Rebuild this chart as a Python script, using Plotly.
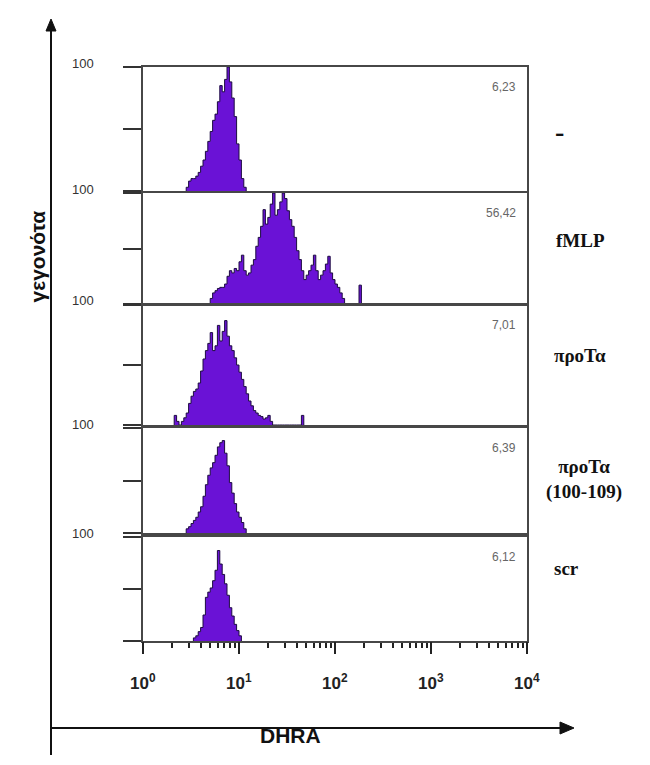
import numpy as np
import plotly.graph_objects as go

# ---------------- data ----------------
BINS_PER_DECADE = 40          # histogram bins per log decade (FL channel binning)
conditions = ["-", "fMLP", "προΤα", "προΤα<br>(100-109)", "scr"]
mfi_labels = ["6,23", "56,42", "7,01", "6,39", "6,12"]
y_tick_label = "100"
x_tick_labels = ["10<sup>0</sup>", "10<sup>1</sup>", "10<sup>2</sup>", "10<sup>3</sup>", "10<sup>4</sup>"]
x_tick_decades = [1, 10, 100, 1000, 10000]

# first bin index of each histogram
start_bins = [18, 28, 13, 18, 21]

counts_ctrl = [3, 8, 10, 10, 12, 15, 20, 25, 32, 40, 48, 57, 62, 72, 85, 80, 90, 100,
               88, 75, 60, 38, 25, 10, 3]
counts_fmlp = [5, 10, 12, 14, 15, 15, 18, 25, 30, 28, 32, 30, 38, 44, 30, 26, 28, 35, 40,
               52, 60, 70, 85, 72, 78, 90, 100, 80, 85, 92, 100, 95, 84, 76, 70, 60, 48, 40,
               30, 22, 26, 30, 35, 44, 30, 22, 26, 30, 36, 43, 28, 22, 18, 15, 10, 5,
               0, 0, 0, 0, 0, 0, 17]
counts_prota = [8, 3, 0, 3, 6, 10, 18, 24, 28, 30, 35, 45, 55, 62, 68, 77, 62, 66, 83, 70,
                78, 87, 74, 66, 62, 56, 50, 44, 38, 32, 26, 20, 16, 12, 10, 8, 7, 5, 6, 8, 3,
                0, 0, 0, 0, 0, 0, 0, 0, 0, 0, 0, 0, 8]
counts_prota_frag = [4, 6, 9, 12, 15, 20, 25, 35, 46, 55, 62, 67, 74, 82, 86, 88, 76, 64,
                     48, 38, 28, 20, 15, 10, 4]
counts_scr = [3, 5, 9, 13, 25, 42, 47, 51, 58, 68, 87, 74, 64, 55, 44, 32, 24, 16, 10, 5]

all_counts = [counts_ctrl, counts_fmlp, counts_prota, counts_prota_frag, counts_scr]

# ---------------- layout geometry (pixels) ----------------
W, H = 650, 765
PANEL_LEFT, PANEL_RIGHT = 143, 527
panel_tops = [67, 193, 305, 428, 537]
panel_bottoms = [191, 304, 425, 533, 641]

def fx(p):
    return p / W

def fy(p):
    return 1 - p / H

FILL = "#6a12d6"
EDGE = "#1c0b40"
BORDER = "#474747"

fig = go.Figure()
layout = dict(
    width=W, height=H, margin=dict(l=0, r=0, t=0, b=0),
    paper_bgcolor="white", plot_bgcolor="white", showlegend=False,
    annotations=[], shapes=[],
)

for i, counts in enumerate(all_counts):
    n = i + 1
    sfx = "" if n == 1 else str(n)
    s = start_bins[i]
    edges = 10 ** ((s + np.arange(len(counts) + 1)) / BINS_PER_DECADE)
    xs = np.concatenate([[edges[0]], edges])
    ys = np.concatenate([[0], counts, [0]])
    fig.add_trace(go.Scatter(
        x=xs, y=ys, mode="lines", line=dict(shape="hv", color=EDGE, width=1),
        fill="tozeroy", fillcolor=FILL, xaxis="x" + sfx, yaxis="y" + sfx,
        hoverinfo="skip",
    ))
    xdom = [fx(PANEL_LEFT), fx(PANEL_RIGHT)]
    ydom = [fy(panel_bottoms[i]), fy(panel_tops[i])]
    xa = dict(domain=xdom, type="log", range=[0, 4], anchor="y" + sfx,
              showline=True, mirror=True, linecolor=BORDER, linewidth=2,
              showgrid=False, zeroline=False, showticklabels=False, ticks="")
    if n == 5:
        minor_vals = [m * 10 ** d for d in range(4) for m in range(1, 10)] + [10000]
        xa.update(ticks="outside", tickvals=minor_vals, ticklen=5, tickwidth=1.5,
                  tickcolor="#222")
    ya = dict(domain=ydom, range=[0, 100], anchor="x" + sfx,
              showline=True, mirror=True, linecolor=BORDER, linewidth=2,
              showgrid=False, zeroline=False, showticklabels=False,
              ticks="outside", tickvals=[0, 50, 100], ticklen=18, tickwidth=2,
              tickcolor="#333")
    layout["xaxis" + sfx] = xa
    layout["yaxis" + sfx] = ya

    # "100" label on the left
    layout["annotations"].append(dict(
        x=fx(96), y=fy(panel_tops[i] - 4), xref="paper", yref="paper",
        text=y_tick_label, showarrow=False, xanchor="right", yanchor="middle",
        font=dict(family="Liberation Sans, Arial", size=13, color="#333")))
    # mean value label
    layout["annotations"].append(dict(
        x=fx(518), y=fy(panel_tops[i] + 20), xref="paper", yref="paper",
        text=mfi_labels[i], showarrow=False, xanchor="right", yanchor="middle",
        font=dict(family="Liberation Sans, Arial", size=12, color="#666")))

# major decade ticks on the bottom axis (overlay axis)
layout["xaxis6"] = dict(domain=[fx(PANEL_LEFT), fx(PANEL_RIGHT)], type="log", range=[0, 4],
                        overlaying="x5", anchor="y5", side="bottom", showline=False,
                        showgrid=False, zeroline=False, showticklabels=False,
                        ticks="outside", tickvals=x_tick_decades, ticklen=12, tickwidth=2,
                        tickcolor="#222")
fig.add_trace(go.Scatter(x=[1], y=[0], xaxis="x6", yaxis="y5", mode="markers",
                         marker=dict(opacity=0), hoverinfo="skip"))

# x tick labels
for k, lab in enumerate(x_tick_labels):
    layout["annotations"].append(dict(
        x=np.log10(x_tick_decades[k]), y=fy(682), xref="x5", yref="paper",
        text="<b>" + lab + "</b>", showarrow=False, xanchor="center", yanchor="middle",
        font=dict(family="Liberation Sans, Arial", size=17, color="#222")))

# condition labels on the right
cond_pos = [(559, 131), (580, 240), (580, 355), (584, 479), (566, 568)]
for k, (cx, cy) in enumerate(cond_pos):
    layout["annotations"].append(dict(
        x=fx(cx), y=fy(cy), xref="paper", yref="paper",
        text="<b>" + conditions[k] + "</b>", showarrow=False,
        xanchor="center", yanchor="middle",
        font=dict(family="Liberation Serif, Times New Roman", size=19 if k else 28,
                  color="#111")))

# big axis arrows (lines + triangular heads)
AX_X, AX_Y = 51, 728
line_style = dict(color="#111", width=2)
layout["shapes"].append(dict(type="line", xref="paper", yref="paper",
                             x0=fx(AX_X), x1=fx(AX_X), y0=fy(755), y1=fy(28),
                             line=line_style))
layout["shapes"].append(dict(type="path", xref="paper", yref="paper",
                             path="M {} {} L {} {} L {} {} Z".format(
                                 fx(AX_X), fy(19), fx(AX_X - 5), fy(31), fx(AX_X + 5), fy(31)),
                             fillcolor="#111", line=dict(color="#111", width=1)))
layout["shapes"].append(dict(type="line", xref="paper", yref="paper",
                             x0=fx(AX_X), x1=fx(562), y0=fy(AX_Y), y1=fy(AX_Y),
                             line=line_style))
layout["shapes"].append(dict(type="path", xref="paper", yref="paper",
                             path="M {} {} L {} {} L {} {} Z".format(
                                 fx(574), fy(AX_Y), fx(560), fy(AX_Y - 6), fx(560), fy(AX_Y + 6)),
                             fillcolor="#111", line=dict(color="#111", width=1)))

# axis titles
layout["annotations"].append(dict(
    x=fx(290), y=fy(749), xref="paper", yref="paper", text="<b>DHRA</b>",
    showarrow=False, font=dict(family="Liberation Sans, Arial", size=21, color="#111")))
layout["annotations"].append(dict(
    x=fx(23), y=fy(257), xref="paper", yref="paper", text="<b>γεγονότα</b>",
    showarrow=False, textangle=-90,
    font=dict(family="Liberation Sans, Arial", size=21, color="#111")))

fig.update_layout(**layout)
fig.write_html("out.html", config={"displayModeBar": False},
               post_script="document.body.style.margin='0px';document.body.style.overflow='hidden';")
